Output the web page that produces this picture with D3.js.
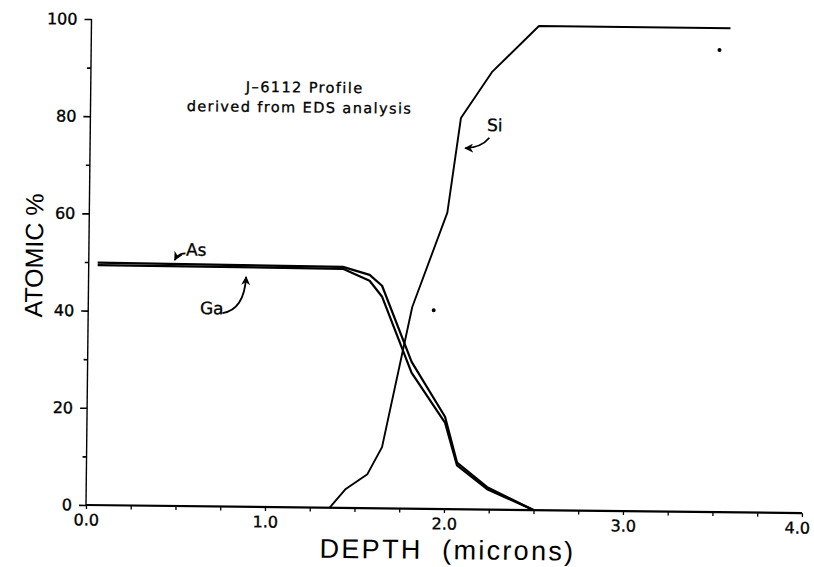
<!DOCTYPE html>
<html>
<head>
<meta charset="utf-8">
<script src="https://cdn.jsdelivr.net/npm/d3@7"></script>
<style>
  html, body { margin: 0; padding: 0; background: #fff; }
  svg { display: block; }
</style>
</head>
<body>
<svg id="chart" width="814" height="567"></svg>
<script>
// J-6112 depth profile: atomic percent of As, Ga and Si versus depth (microns)
const depthGaAs = [0.05, 1.42, 1.57, 1.64, 1.81, 2.00, 2.07, 2.24, 2.50];
const asPct     = [49.9, 49.6, 48.0, 45.8, 30.2, 19.0, 9.6, 4.6, 0];
const gaPct     = [49.4, 49.2, 46.8, 43.6, 28.0, 17.8, 9.0, 4.2, 0];

const depthSi = [1.36, 1.45, 1.57, 1.65, 1.81, 2.00, 2.07, 2.24, 2.50, 3.57];
const siPct   = [0, 3.9, 7.0, 12.6, 41.5, 61.0, 80.5, 90.0, 99.6, 99.6];

// isolated single readings
const strayDepth = [1.93, 3.51];
const strayPct   = [40.9, 95.1];

const xMajorTicks  = [0, 1, 2, 3, 4];
const xTickLabels  = ["0.0", "1.0", "2.0", "3.0", "4.0"];
const yMajorTicks  = [0, 20, 40, 60, 80, 100];
const yTickLabels  = ["0", "20", "40", "60", "80", "100"];

const svg = d3.select("#chart");
svg.append("rect").attr("width", 814).attr("height", 567).attr("fill", "#fff");

const x = d3.scaleLinear().domain([0, 4]).range([86, 802]);
const y = d3.scaleLinear().domain([0, 100]).range([505, 19]);

// the plot sheet sits slightly turned
const g = svg.append("g").attr("transform", "rotate(0.65, 86, 505)");

const tickFont = sel => sel
  .attr("font-family", "DejaVu Sans").attr("font-size", 16).attr("fill", "#000")
  .attr("stroke", "#000").attr("stroke-width", 0.35);

// ---- axes ----
const xAxis = d3.axisBottom(x)
  .tickValues(d3.range(0, 4.001, 0.25))
  .tickSize(4)
  .tickFormat(d => {
    const i = xMajorTicks.indexOf(d);
    return i >= 0 ? xTickLabels[i] : "";
  });
const gx = g.append("g").attr("transform", `translate(0,${y(0)})`).call(xAxis);
gx.select(".domain").remove();
gx.selectAll(".tick line").attr("stroke", "#000").attr("stroke-width", 1.3);
gx.selectAll(".tick text").attr("y", 9).attr("dy", "0.71em").call(tickFont);
// last label kept inside the sheet edge
gx.selectAll(".tick text").filter(d => d === 4).attr("x", -5);
g.append("line").attr("x1", x(0)).attr("x2", x(4)).attr("y1", y(0)).attr("y2", y(0))
  .attr("stroke", "#000").attr("stroke-width", 2.2);

const yAxis = d3.axisLeft(y)
  .tickValues(d3.range(0, 100.001, 10))
  .tickSize(7)
  .tickFormat(d => {
    const i = yMajorTicks.indexOf(d);
    return i >= 0 ? yTickLabels[i] : "";
  });
const gy = g.append("g").attr("transform", `translate(${x(0)},0)`).call(yAxis);
gy.select(".domain").remove();
gy.selectAll(".tick line")
  .attr("stroke", "#000").attr("stroke-width", 1.6)
  .attr("x2", d => yMajorTicks.includes(d) ? -7 : -4);
gy.selectAll(".tick text").attr("x", -14).call(tickFont);
g.append("line").attr("x1", x(0)).attr("x2", x(0)).attr("y1", y(0)).attr("y2", y(100))
  .attr("stroke", "#000").attr("stroke-width", 1.4);

// ---- series ----
const line = d3.line().x(d => x(d[0])).y(d => y(d[1]));
const zip = (a, b) => a.map((v, i) => [v, b[i]]);

g.append("path").datum(zip(depthGaAs, asPct)).attr("d", line)
  .attr("fill", "none").attr("stroke", "#000").attr("stroke-width", 2.2)
  .attr("stroke-linejoin", "round");
g.append("path").datum(zip(depthGaAs, gaPct)).attr("d", line)
  .attr("fill", "none").attr("stroke", "#000").attr("stroke-width", 2.2)
  .attr("stroke-linejoin", "round");
g.append("path").datum(zip(depthSi, siPct)).attr("d", line)
  .attr("fill", "none").attr("stroke", "#000").attr("stroke-width", 1.9)
  .attr("stroke-linejoin", "round");

g.selectAll("circle.stray").data(zip(strayDepth, strayPct)).join("circle")
  .attr("class", "stray")
  .attr("cx", d => x(d[0])).attr("cy", d => y(d[1])).attr("r", 2).attr("fill", "#000");

// ---- annotations ----
const defs = svg.append("defs");
defs.append("marker").attr("id", "head")
  .attr("viewBox", "0 0 10 10").attr("refX", 9).attr("refY", 5)
  .attr("markerWidth", 9).attr("markerHeight", 9)
  .attr("markerUnits", "userSpaceOnUse").attr("orient", "auto")
  .append("path").attr("d", "M0,0 L10,5 L0,10 L3,5 Z").attr("fill", "#000");

const curve = (p0, c, p1) =>
  `M${x(p0[0])},${y(p0[1])} Q${x(c[0])},${y(c[1])} ${x(p1[0])},${y(p1[1])}`;

function label(txt, d, v) {
  g.append("text").attr("x", x(d)).attr("y", y(v))
    .attr("text-anchor", "middle").attr("dominant-baseline", "central")
    .attr("font-family", "DejaVu Sans").attr("font-size", 17).attr("fill", "#000")
    .attr("stroke", "#000").attr("stroke-width", 0.3)
    .text(txt);
}

label("Si", 2.26, 79.1);
g.append("path").attr("d", curve([2.23, 76.5], [2.184, 74.4], [2.095, 74.3]))
  .attr("fill", "none").attr("stroke", "#000").attr("stroke-width", 1.8)
  .attr("marker-end", "url(#head)");

label("Ga", 0.69, 40.8);
g.append("path").attr("d", curve([0.75, 39.8], [0.871, 40.5], [0.88, 47.3]))
  .attr("fill", "none").attr("stroke", "#000").attr("stroke-width", 1.8)
  .attr("marker-end", "url(#head)");

label("As", 0.60, 52.8);
g.append("path").attr("d", curve([0.54, 52.0], [0.50, 52.0], [0.48, 50.6]))
  .attr("fill", "none").attr("stroke", "#000").attr("stroke-width", 1.6)
  .attr("marker-end", "url(#head)");

// ---- titles ----
const titleText = (txt, tx, ty) => g.append("text").attr("x", tx).attr("y", ty)
  .attr("text-anchor", "middle")
  .attr("font-family", "DejaVu Sans").attr("font-size", 14.5).attr("letter-spacing", 1.4)
  .attr("fill", "#000").attr("stroke", "#000").attr("stroke-width", 0.3)
  .text(txt);
titleText("J\u20136112 Profile", 300, 90);
titleText("derived from EDS analysis", 295, 110);

g.append("text").attr("x", 448).attr("y", 555).attr("text-anchor", "middle")
  .attr("font-family", "Liberation Sans").attr("font-size", 27).attr("letter-spacing", 2.3)
  .attr("fill", "#000")
  .style("white-space", "pre")
  .text("DEPTH  (microns)");

g.append("text").attr("transform", "translate(40,256) rotate(-90)")
  .attr("text-anchor", "middle")
  .attr("font-family", "Liberation Sans").attr("font-size", 25).attr("fill", "#000")
  .text("ATOMIC %");
</script>
</body>
</html>
